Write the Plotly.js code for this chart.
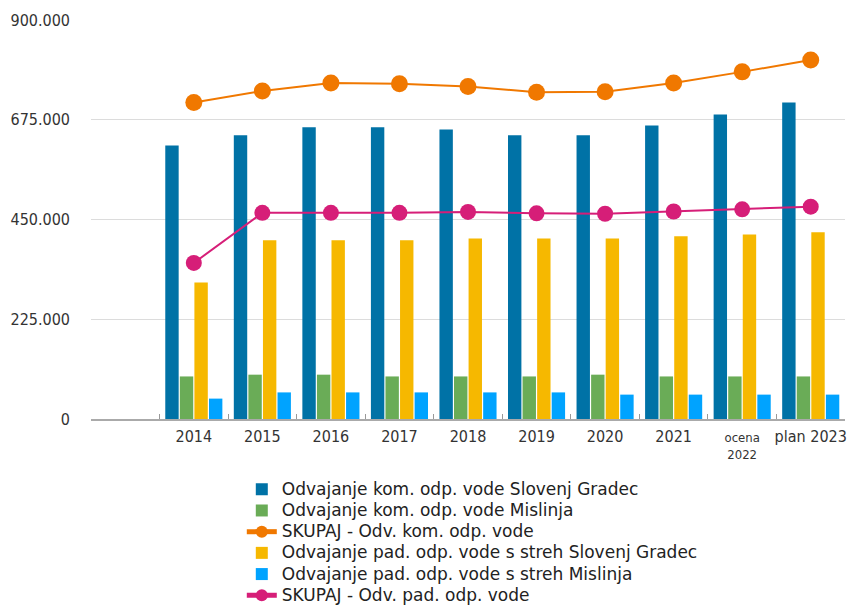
<!DOCTYPE html>
<html>
<head>
<meta charset="utf-8">
<script src="https://cdn.plot.ly/plotly-3.0.1.min.js"></script>
<style>html,body{margin:0;padding:0;background:#fff;}#chart{width:847px;height:605px;}</style>
</head>
<body>
<div id="chart"></div>
<script>
const categories = ["2014","2015","2016","2017","2018","2019","2020","2021","ocena 2022","plan 2023"];
const tickLabels = ["2014","2015","2016","2017","2018","2019","2020","2021","ocena<br>2022","plan 2023"];
const komSlovenjGradec = [617000,640000,658000,658000,653000,640000,640000,662000,687000,714000];
const komMislinja = [96000,100000,100000,96000,96000,96000,100000,96000,96000,96000];
const skupajKom = [714000,740000,758000,756000,750000,737000,738000,758000,783000,810000];
const padSlovenjGradec = [308000,403000,403000,403000,407000,407000,407000,412000,416000,421000];
const padMislinja = [46000,60000,60000,60000,60000,60000,55000,55000,55000,55000];
const skupajPad = [352000,465000,465000,465000,467000,464000,463000,468000,473000,479000];
const yTicks = [0,225000,450000,675000,900000];

const names = [
  "Odvajanje kom. odp. vode Slovenj Gradec",
  "Odvajanje kom. odp. vode Mislinja",
  "SKUPAJ - Odv. kom. odp. vode",
  "Odvajanje pad. odp. vode s streh Slovenj Gradec",
  "Odvajanje pad. odp. vode s streh Mislinja",
  "SKUPAJ - Odv. pad. odp. vode"
];
const big = n => "<span style='font-size:17px'>" + n + "</span>";
const tick = t => t.indexOf("<br>") >= 0 ? t : "<span style='font-size:16px'>" + t + "</span>";

const data = [
  {type:"bar", x:categories, y:komSlovenjGradec, name:big(names[0]), marker:{color:"#0072A6"}},
  {type:"bar", x:categories, y:komMislinja, name:big(names[1]), marker:{color:"#6AAC57"}},
  {type:"scatter", mode:"lines+markers", x:categories, y:skupajKom, name:big(names[2]),
   line:{color:"#F07800", width:2}, marker:{color:"#F07800", size:17}},
  {type:"bar", x:categories, y:padSlovenjGradec, name:big(names[3]), marker:{color:"#F6B800"}},
  {type:"bar", x:categories, y:padMislinja, name:big(names[4]), marker:{color:"#00A3FF"}},
  {type:"scatter", mode:"lines+markers", x:categories, y:skupajPad, name:big(names[5]),
   line:{color:"#D61E78", width:2}, marker:{color:"#D61E78", size:16}}
];

const font = "'DejaVu Sans Condensed', 'Roboto', sans-serif";
const layout = {
  width:847, height:605,
  margin:{l:91, r:2, t:20, b:186, autoexpand:false},
  paper_bgcolor:"#fff", plot_bgcolor:"#fff",
  separators:",.",
  font:{family:font, color:"#333", size:14},
  barmode:"group", bargap:0.15, bargroupgap:0.08,
  showlegend:true,
  hovermode:false,
  xaxis:{
    type:"category", range:[-1.5, 9.5], autorange:false, automargin:false,
    tickvals:categories, ticktext:tickLabels.map(tick), tickangle:0,
    tickson:"boundaries", ticks:"inside", ticklen:5, tickcolor:"#999",
    showline:true, linecolor:"#aaa", linewidth:2,
    showgrid:false, tickfont:{size:13, color:"#333"}, ticklabelstandoff:5
  },
  yaxis:{
    range:[0, 900000], autorange:false, automargin:false,
    tickvals:yTicks, tickformat:",d",
    showgrid:true, gridcolor:"#dcdcdc", gridwidth:1,
    zeroline:false, showline:false,
    tickfont:{size:16, color:"#333"}, ticklabelstandoff:20
  },
  legend:{
    orientation:"v", x:0.2, xanchor:"left", y:-0.137, yanchor:"top",
    font:{family:"'DejaVu Sans', sans-serif", size:14, color:"#222"},
    tracegroupgap:0, itemsizing:"constant", traceorder:"normal"
  }
};

Plotly.newPlot("chart", data, layout, {displayModeBar:false, staticPlot:true});
</script>
</body>
</html>
